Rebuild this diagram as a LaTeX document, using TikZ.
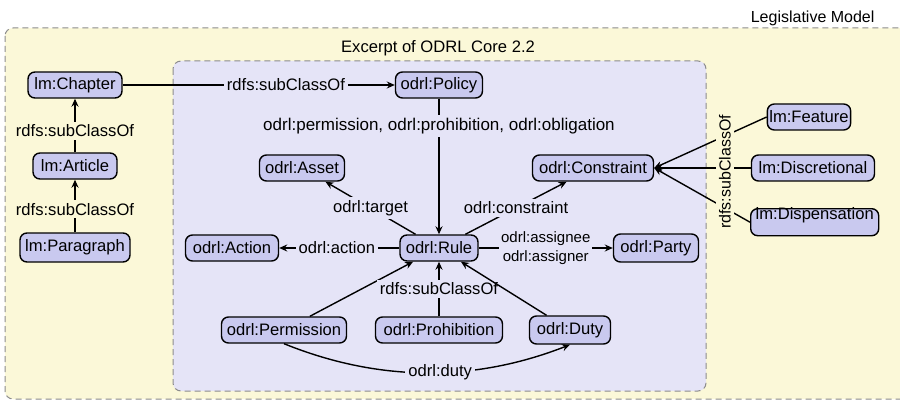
\documentclass[tikz,border=0pt]{standalone}
\usepackage{fontspec}
\setmainfont{Liberation Sans}
\usetikzlibrary{arrows.meta}
\definecolor{outerfill}{RGB}{251,248,216}
\definecolor{innerfill}{RGB}{229,228,247}
\definecolor{nodefill}{RGB}{201,201,239}
\definecolor{dashgray}{RGB}{140,140,140}
\begin{document}
\begin{tikzpicture}[x=1pt,y=-1pt,
  base/.style={font=\fontsize{16.6}{19}\selectfont},
  cls/.style={base, draw=black, fill=nodefill, rounded corners=7pt, line width=1.4pt, inner xsep=2pt, inner ysep=0pt, minimum height=26pt},
  lblin/.style={base, fill=innerfill, inner sep=3pt},
  lblout/.style={base, fill=outerfill, inner sep=3pt},
  conn/.style={line width=1.4pt, -{Stealth[length=8pt,width=7pt]}},
  frame/.style={draw=dashgray, line width=1pt, dash pattern=on 6pt off 4pt, rounded corners=8pt}
]
\useasboundingbox (0,0) rectangle (900,401);
\begin{scope}
  \clip (0,0) rectangle (900,401);
  \path[frame, fill=outerfill] (5,28) rectangle (915,399);
\end{scope}
\node[font=\fontsize{16}{19}\selectfont, anchor=east] (legis) at (878,18) {Legislative Model};
\node[base] (excerpt) at (438,48) {Excerpt of ODRL Core 2.2};
\path[frame, fill=innerfill] (173,61) rectangle (706,391);

% nodes
\node[cls, minimum width=94pt] (chap) at (75,85) {lm:Chapter};
\node[cls, minimum width=84pt] (art) at (75,166) {lm:Article};
\node[cls, minimum width=110pt, minimum height=29pt] (para) at (75,247.5) {lm:Paragraph};
\node[cls, minimum width=87pt] (pol) at (439,85) {odrl:Policy};
\node[cls, minimum width=85pt] (asset) at (302,168) {odrl:Asset};
\node[cls, minimum width=121pt] (cons) at (593,168) {odrl:Constraint};
\node[cls, minimum width=93pt] (act) at (232,248) {odrl:Action};
\node[cls, minimum width=78pt] (rule) at (439,248) {odrl:Rule};
\node[cls, minimum width=85pt, minimum height=28pt] (party) at (656,248) {odrl:Party};
\node[cls, minimum width=125pt] (perm) at (284,330) {odrl:Permission};
\node[cls, minimum width=127pt] (proh) at (439,330) {odrl:Prohibition};
\node[cls, minimum width=81pt, minimum height=28pt] (duty) at (570,330) {odrl:Duty};
\node[cls, minimum width=82pt] (feat) at (809,117) {lm:Feature};
\node[cls, minimum width=123pt] (disc) at (813,168) {lm:Discretional};
\node[cls, minimum width=128pt, minimum height=0pt, text height=11pt, text depth=16pt, anchor=north west] (disp) at (750,208) {lm:Dispensation};

% connectors
\draw[conn] (chap) -- node[lblin, pos=0.6] {rdfs:subClassOf} (pol);
\draw[conn] (art) -- node[lblout, pos=0.4] {rdfs:subClassOf} (chap);
\draw[conn] (para) -- node[lblout, pos=0.44] {rdfs:subClassOf} (art);
\draw[conn] (pol) -- node[lblin, pos=0.2, font=\fontsize{17}{19}\selectfont] {odrl:permission, odrl:prohibition, odrl:obligation} (rule);
\draw[conn] (rule) -- node[lblin] {odrl:target} (asset);
\draw[conn] (rule) -- node[lblin] {odrl:constraint} (cons);
\draw[conn] (rule) -- node[lblin, pos=0.52] {odrl:action} (act);
\draw[conn] (rule) -- node[lblin, align=center, font=\fontsize{15}{18.5}\selectfont, inner sep=2pt] {odrl:assignee\\odrl:assigner} (party);
\draw[conn] (perm) -- (rule);
\draw[conn] (proh) -- node[lblin] {rdfs:subClassOf} (rule);
\draw[conn] (duty) -- (rule);
\draw[conn] (perm.south) .. controls +(94,38) and +(-97,38) .. node[lblin, pos=0.55] {odrl:duty} (duty.south);
\draw[conn] (feat.west) -- (cons.east);
\draw[conn] (disc) -- (cons);
\draw[conn] (disp.west) -- (cons.east);
\node[lblout, rotate=90, font=\fontsize{16}{19}\selectfont] (sc) at (725,172) {rdfs:subClassOf};
\end{tikzpicture}
\end{document}
